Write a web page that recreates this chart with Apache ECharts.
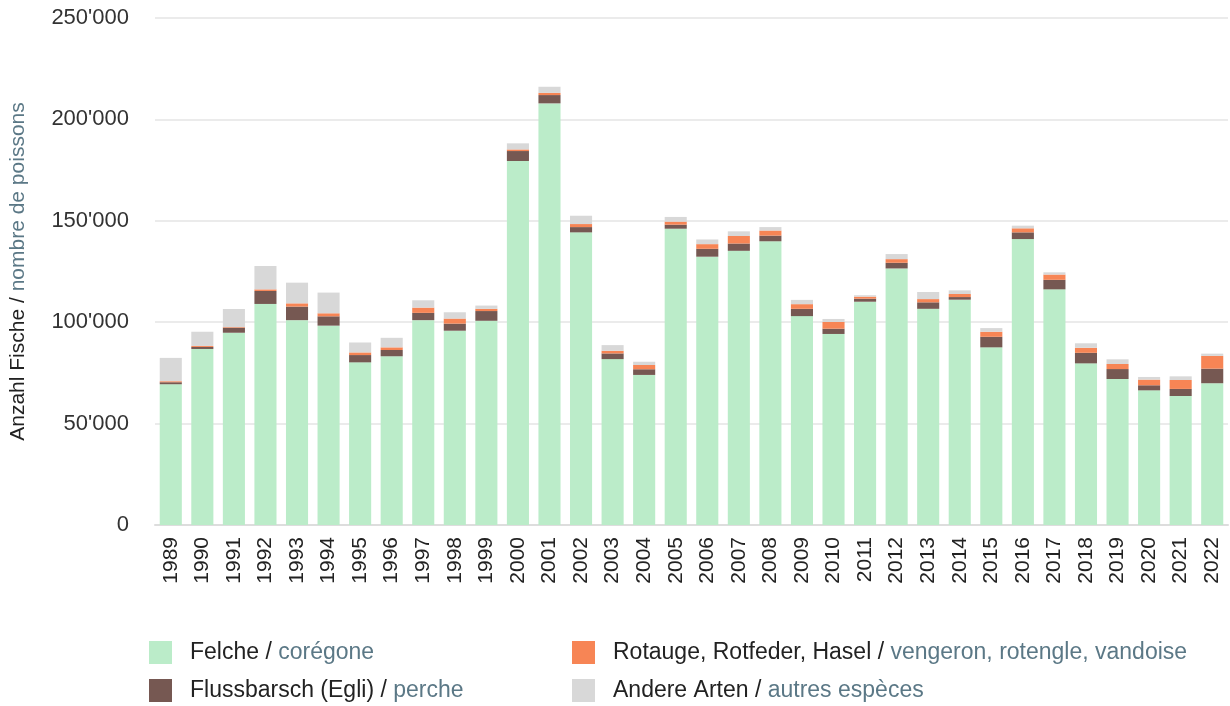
<!DOCTYPE html>
<html style="height: 100%">
<head>
    <meta charset="utf-8">
</head>
<body style="height: 100%; margin: 0; background-color: #fff;">
<div id="container" style="height: 100%"></div>
<script type="text/javascript" src="https://cdn.jsdelivr.net/npm/echarts@6/dist/echarts.min.js"></script>
<script type="text/javascript">
    var years = ['1989', '1990', '1991', '1992', '1993', '1994', '1995', '1996', '1997', '1998',
        '1999', '2000', '2001', '2002', '2003', '2004', '2005', '2006', '2007', '2008',
        '2009', '2010', '2011', '2012', '2013', '2014', '2015', '2016', '2017', '2018',
        '2019', '2020', '2021', '2022'];

    var felche = [69400, 86800, 94800, 109000, 101000, 98300, 80200, 83200, 101000, 95800,
        100700, 179500, 207900, 144300, 81800, 74000, 146100, 132300, 135200, 139900,
        103000, 94200, 110100, 126500, 106600, 111100, 87600, 141000, 116200, 79700,
        72000, 66400, 63600, 69900];
    var egli = [1000, 1000, 2500, 6400, 6700, 4600, 3600, 3100, 3600, 3500,
        4800, 4900, 4100, 2600, 2800, 2800, 2000, 3900, 3600, 2800,
        3600, 2600, 1500, 2800, 3200, 1300, 5200, 3300, 4700, 5200,
        4900, 2500, 3500, 7200];
    var rotauge = [500, 500, 300, 800, 1600, 1500, 1300, 1300, 2600, 2500,
        1100, 800, 1100, 1500, 1300, 2100, 1500, 2300, 3700, 2500,
        2300, 3300, 1000, 1800, 1600, 1500, 2500, 2000, 2600, 2500,
        2500, 2800, 4400, 6300];
    var andere = [11500, 7000, 8900, 11500, 10200, 10200, 4900, 4700, 3600, 3100,
        1600, 3000, 3000, 4100, 2800, 1600, 2300, 2300, 2300, 1700,
        2100, 1500, 700, 2500, 3500, 1800, 1800, 1300, 1100, 2200,
        2300, 1300, 1800, 1100];

    var names = ['Felche', 'Flussbarsch (Egli)', 'Rotauge, Rotfeder, Hasel', 'Andere Arten'];
    var namesFr = ['corégone', 'perche', 'vengeron, rotengle, vandoise', 'autres espèces'];
    var colors = ['#bbecc9', '#765852', '#f78555', '#d8d8d8'];
    var seriesData = [felche, egli, rotauge, andere];

    var font = '"Liberation Sans", Arial, sans-serif';

    var dom = document.getElementById('container');
    var myChart = echarts.init(dom);

    function legendText(name) {
        var i = names.indexOf(name);
        return '{a|' + name + ' / }{b|' + namesFr[i] + '}';
    }

    var legendBase = {
        orient: 'vertical',
        top: 641,
        padding: 0,
        itemWidth: 23,
        itemHeight: 23,
        itemGap: 15,
        icon: 'rect',
        selectedMode: false,
        formatter: legendText,
        textStyle: {
            fontFamily: font,
            rich: {
                a: {color: '#222', fontSize: 23, fontFamily: font, padding: [0, 0, 0, 13]},
                b: {color: '#5b7886', fontSize: 23, fontFamily: font}
            }
        }
    };

    var option = {
        animation: false,
        grid: {
            left: 147,
            right: 2,
            top: 18,
            bottom: 181
        },
        legend: [
            Object.assign({}, legendBase, {left: 149, data: [names[0], names[1]]}),
            Object.assign({}, legendBase, {left: 572, data: [names[2], names[3]]})
        ],
        xAxis: {
            type: 'category',
            data: years,
            axisLine: {lineStyle: {color: '#ddd', width: 2}},
            axisTick: {show: false},
            axisLabel: {
                rotate: 90,
                color: '#222',
                fontSize: 21,
                fontFamily: font,
                margin: 12
            }
        },
        yAxis: {
            type: 'value',
            min: 0,
            max: 250000,
            interval: 50000,
            name: '{a|Anzahl Fische / }{b|nombre de poissons}',
            nameLocation: 'middle',
            nameRotate: 90,
            nameGap: 126,
            nameTextStyle: {
                rich: {
                    a: {color: '#222', fontSize: 21, fontFamily: font},
                    b: {color: '#5b7886', fontSize: 21, fontFamily: font}
                }
            },
            axisLine: {show: false},
            axisTick: {show: false},
            splitLine: {lineStyle: {color: '#e4e4e4', width: 1.5}},
            axisLabel: {
                color: '#333',
                fontSize: 22,
                fontFamily: font,
                margin: 26,
                formatter: function (v) {
                    return String(v).replace(/\B(?=(\d{3})+(?!\d))/g, "'");
                }
            }
        },
        series: names.map(function (n, i) {
            return {
                name: n,
                type: 'bar',
                stack: 'total',
                barCategoryGap: '30%',
                data: seriesData[i],
                itemStyle: {color: colors[i]}
            };
        })
    };

    myChart.setOption(option);
</script>
</body>
</html>
